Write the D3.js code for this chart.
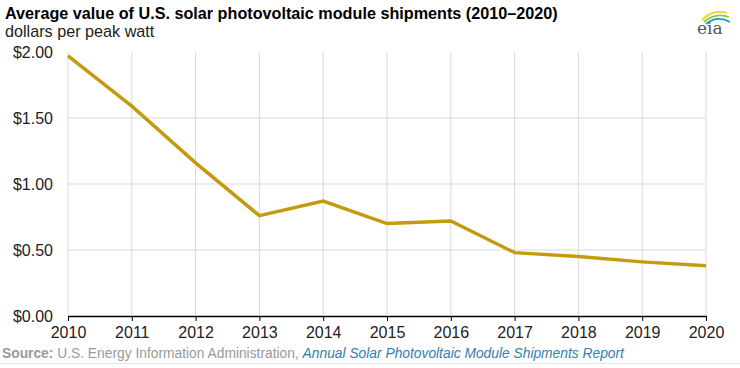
<!DOCTYPE html>
<html><head><meta charset="utf-8">
<script src="https://cdn.jsdelivr.net/npm/d3@7"></script>
<style>body{margin:0;background:#fff}svg{display:block;font-family:"Liberation Sans",Arial,sans-serif}</style>
</head><body><svg id="c" width="740" height="368"></svg>
<script>
const years = [2010,2011,2012,2013,2014,2015,2016,2017,2018,2019,2020];
const values = [1.97,1.59,1.16,0.76,0.87,0.70,0.72,0.48,0.45,0.41,0.38];
const yTicks = [0,0.5,1,1.5,2];
const title = "Average value of U.S. solar photovoltaic module shipments (2010\u20132020)";
const subtitle = "dollars per peak watt";

const svg = d3.select("#c");
const m = {l:68, r:706, t:52, b:316};
const x = d3.scaleLinear().domain([2010,2020]).range([m.l,m.r]);
const y = d3.scaleLinear().domain([0,2]).range([m.b,m.t]);

svg.append("text").attr("x",5).attr("y",19).attr("font-size",16.2).attr("font-weight","bold").attr("fill","#000").text(title);
svg.append("text").attr("x",5).attr("y",37).attr("font-size",16.2).attr("fill","#222").text(subtitle);

// grid
const g = svg.append("g");
g.selectAll(".hg").data(yTicks.filter(d=>d>0 && d<2)).join("line")
  .attr("x1",m.l).attr("x2",m.r).attr("y1",d=>y(d)).attr("y2",d=>y(d)).attr("stroke","#d9d9d9");
g.selectAll(".vg").data(years).join("line")
  .attr("x1",d=>x(d)).attr("x2",d=>x(d)).attr("y1",m.t).attr("y2",m.b).attr("stroke","#d9d9d9");

// y axis labels
const ya = svg.append("g").attr("transform",`translate(${m.l},0)`)
  .call(d3.axisLeft(y).tickValues(yTicks).tickFormat(d=>"$"+d.toFixed(2)).tickSize(0).tickPadding(15));
ya.select(".domain").remove();
ya.selectAll("text").attr("font-size",16).attr("fill","#222").attr("font-family","Liberation Sans, Arial, sans-serif");

// x axis
const xa = svg.append("g").attr("transform",`translate(0,${m.b})`)
  .call(d3.axisBottom(x).tickValues(years).tickFormat(d3.format("d")).tickSize(5).tickPadding(6).tickSizeOuter(0));
xa.select(".domain").attr("stroke","#000").attr("stroke-width",1.5);
xa.selectAll(".tick line").attr("stroke","#000");
xa.selectAll("text").attr("font-size",16).attr("fill","#222").attr("font-family","Liberation Sans, Arial, sans-serif");

// line
svg.append("path").datum(years.map((d,i)=>[d,values[i]]))
  .attr("fill","none").attr("stroke","#c49b0e").attr("stroke-width",3.5).attr("stroke-linejoin","miter")
  .attr("d",d3.line().x(d=>x(d[0])).y(d=>y(d[1])));

// source
const s = svg.append("text").attr("x",2).attr("y",358).attr("font-size",13.8);
s.append("tspan").attr("font-weight","bold").attr("fill","#999").text("Source: ");
s.append("tspan").attr("fill","#999").text("U.S. Energy Information Administration, ");
s.append("tspan").attr("fill","#3380b0").attr("font-style","italic").text("Annual Solar Photovoltaic Module Shipments Report");
svg.append("line").attr("x1",0).attr("x2",740).attr("y1",363.5).attr("y2",363.5).attr("stroke","#e3e3e3");

// eia logo
const lg = svg.append("g");
lg.append("path").attr("d","M702,20 Q713,9 727,13").attr("fill","none").attr("stroke","#f2d21b").attr("stroke-width",1.8);
lg.append("path").attr("d","M704,22 Q715,12 729,17").attr("fill","none").attr("stroke","#8cc63f").attr("stroke-width",1.8);
lg.append("path").attr("d","M706,24 Q717,15 730,22").attr("fill","none").attr("stroke","#1b9ad6").attr("stroke-width",1.8);
lg.append("text").attr("x",697).attr("y",34).attr("font-family","DejaVu Serif, serif").attr("font-size",17).attr("fill","#555").text("eia");
</script></body></html>
